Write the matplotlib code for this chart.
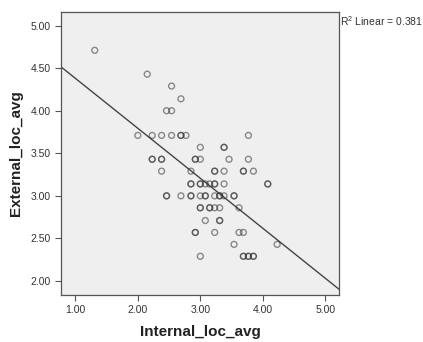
import numpy as np
import matplotlib.pyplot as plt

# points (dark circles = two cases on the same spot)
internal_loc = [1.31, 2.15, 2.54, 2.69, 2.46, 2.54,
                2.00, 2.23, 2.38, 2.54, 2.69, 2.69, 2.77, 3.77,
                3.00, 3.38, 3.38,
                2.23, 2.23, 2.38, 2.38, 2.92, 2.92, 3.00, 3.46, 3.77,
                2.38, 2.85, 3.23, 3.23, 3.38, 3.69, 3.69, 3.85,
                2.85, 2.85, 3.00, 3.00, 3.08, 3.15, 3.23, 3.23, 3.38, 4.08, 4.08,
                2.46, 2.46, 2.69, 2.85, 2.85, 3.00, 3.08, 3.08, 3.23, 3.31, 3.31, 3.38, 3.54, 3.54,
                3.00, 3.00, 3.15, 3.15, 3.23, 3.31, 3.62,
                3.08, 3.31, 3.31,
                2.92, 2.92, 3.23, 3.62, 3.69,
                3.54, 4.23,
                3.00, 3.69, 3.69, 3.77, 3.77, 3.85, 3.85]
external_loc = [4.71, 4.43, 4.29, 4.14, 4.00, 4.00,
                3.71, 3.71, 3.71, 3.71, 3.71, 3.71, 3.71, 3.71,
                3.57, 3.57, 3.57,
                3.43, 3.43, 3.43, 3.43, 3.43, 3.43, 3.43, 3.43, 3.43,
                3.29, 3.29, 3.29, 3.29, 3.29, 3.29, 3.29, 3.29,
                3.14, 3.14, 3.14, 3.14, 3.14, 3.14, 3.14, 3.14, 3.14, 3.14, 3.14,
                3.00, 3.00, 3.00, 3.00, 3.00, 3.00, 3.00, 3.00, 3.00, 3.00, 3.00, 3.00, 3.00, 3.00,
                2.86, 2.86, 2.86, 2.86, 2.86, 2.86, 2.86,
                2.71, 2.71, 2.71,
                2.57, 2.57, 2.57, 2.57, 2.57,
                2.43, 2.43,
                2.29, 2.29, 2.29, 2.29, 2.29, 2.29, 2.29]
xticks = [1.0, 2.0, 3.0, 4.0, 5.0]
yticks = [2.0, 2.5, 3.0, 3.5, 4.0, 4.5, 5.0]
r2_label = r'R$^2$ Linear = 0.381'

x = np.array(internal_loc)
y = np.array(external_loc)
slope, intercept = np.polyfit(x, y, 1)

plt.rcParams['font.family'] = ['Liberation Sans', 'DejaVu Sans']
plt.rcParams['mathtext.fontset'] = 'custom'
plt.rcParams['mathtext.rm'] = 'Liberation Sans'
plt.rcParams['mathtext.default'] = 'regular'
fig = plt.figure(figsize=(4.23, 3.42), dpi=100)
ax = fig.add_axes([0.1442, 0.1374, 0.6572, 0.8275])
ax.set_facecolor('#efefef')

ax.scatter(x, y, s=18, facecolors='none', edgecolors=(0.2, 0.2, 0.2, 0.55), linewidths=1.0, zorder=3)

xlim = (0.77, 5.22)
ax.set_xlim(*xlim)
ax.set_ylim(1.835, 5.16)
xs = np.array(xlim)
ax.plot(xs, intercept + slope * xs, color='#444444', lw=1.0, zorder=2)

ax.set_xticks(xticks)
ax.set_yticks(yticks)
ax.set_xticklabels(['{:.2f}'.format(v) for v in xticks])
ax.set_yticklabels(['{:.2f}'.format(v) for v in yticks])
ax.tick_params(direction='out', length=4, width=0.8, colors='#555555', labelcolor='#333333', labelsize=7.5)
for s in ax.spines.values():
    s.set_color('#555555')
    s.set_linewidth(0.9)

ax.set_xlabel('Internal_loc_avg', fontsize=11, fontweight='bold', color='#222222', labelpad=7)
ax.set_ylabel('External_loc_avg', fontsize=11, fontweight='bold', color='#222222', labelpad=5)

fig.text(0.804, 0.937, r2_label, fontsize=7.5, color='#333333', ha='left', va='center')

fig.savefig('out.png', dpi=100)
